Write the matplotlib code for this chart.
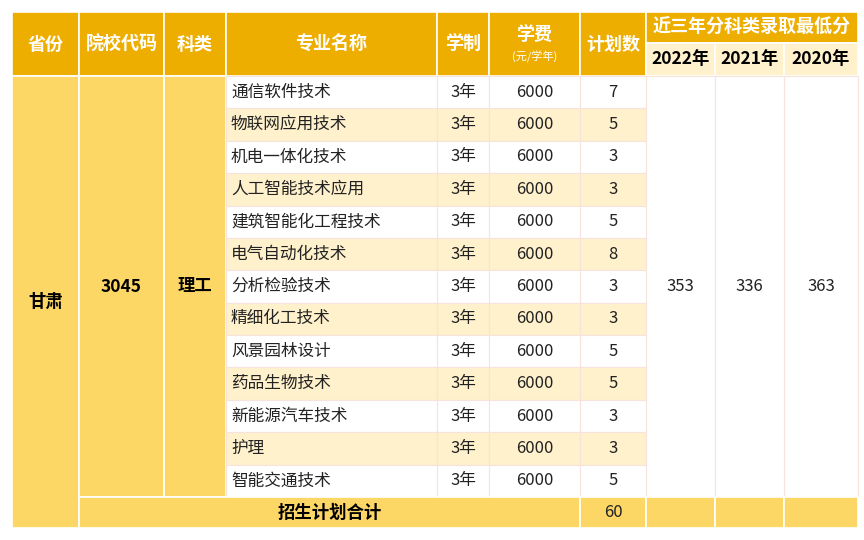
import matplotlib
matplotlib.use("Agg")
import matplotlib.pyplot as plt
from matplotlib.patches import Rectangle

plt.rcParams["font.family"] = "Noto Sans CJK SC"

# data
majors = ["通信软件技术", "物联网应用技术", "机电一体化技术", "人工智能技术应用", "建筑智能化工程技术",
          "电气自动化技术", "分析检验技术", "精细化工技术", "风景园林设计", "药品生物技术",
          "新能源汽车技术", "护理", "智能交通技术"]
plans = [7, 5, 3, 3, 5, 8, 3, 3, 5, 5, 3, 3, 5]
plan_total = 60  # as printed in the source table
years_len = "3年"
fee = 6000
province, code, subject = "甘肃", "3045", "理工"
score_years = ["2022年", "2021年", "2020年"]
scores = [353, 336, 363]
headers = ["省份", "院校代码", "科类", "专业名称", "学制", "学费", "计划数"]

# layout (pixels)
col_edges = [12, 79, 164, 226, 437, 489, 580, 646, 715, 784, 858]
top, head_bot, sub_split = 12, 76, 43
row_h = (497 - head_bot) / len(majors)
total_bot = 528

GOLD = "#EEAE00"
LIGHT = "#FDD766"
CREAM = "#FFF1CC"
LINE = "#F6E3DC"

fig = plt.figure(figsize=(8.64, 5.4), dpi=100)
ax = fig.add_axes([0, 0, 1, 1])
ax.set_xlim(0, 864)
ax.set_ylim(540, 0)
ax.axis("off")


def cell(x0, x1, y0, y1, color, edge="white", lw=1.2):
    ax.add_patch(Rectangle((x0, y0), x1 - x0, y1 - y0, facecolor=color, edgecolor=edge, lw=lw))


def text(x0, x1, y0, y1, s, ha="center", **kw):
    x = (x0 + x1) / 2 if ha == "center" else x0 + 5
    ax.text(x, (y0 + y1) / 2, s, ha=ha, va="center", **kw)


# header
for i, h in enumerate(headers):
    x0, x1 = col_edges[i], col_edges[i + 1]
    cell(x0, x1, top, head_bot, GOLD)
    if h == "学费":
        ax.text((x0 + x1) / 2, 34, h, ha="center", va="center", color="white", fontsize=13, fontweight="bold")
        ax.text((x0 + x1) / 2, 57, "(元/学年)", ha="center", va="center", color="white", fontsize=8)
    else:
        text(x0, x1, top, head_bot, h, color="white", fontsize=13, fontweight="bold")
cell(col_edges[7], col_edges[10], top, sub_split, GOLD)
text(col_edges[7], col_edges[10], top, sub_split, "近三年分科类录取最低分", color="white", fontsize=13, fontweight="bold")
for j, yr in enumerate(score_years):
    x0, x1 = col_edges[7 + j], col_edges[8 + j]
    cell(x0, x1, sub_split, head_bot, CREAM)
    text(x0, x1, sub_split, head_bot, yr, color="black", fontsize=12.5, fontweight="bold")

# merged left cells
for i, s in enumerate([province, code, subject]):
    x0, x1 = col_edges[i], col_edges[i + 1]
    bot = total_bot if i == 0 else 497
    cell(x0, x1, head_bot, bot, LIGHT)
    text(x0, x1, head_bot, 497 if i else total_bot, s, color="black", fontsize=12.5, fontweight="bold")

# rows
for r, (m, p) in enumerate(zip(majors, plans)):
    y0, y1 = head_bot + r * row_h, head_bot + (r + 1) * row_h
    bg = "white" if r % 2 == 0 else CREAM
    vals = [m, years_len, str(fee), str(p)]
    for k, v in enumerate(vals):
        x0, x1 = col_edges[3 + k], col_edges[4 + k]
        cell(x0, x1, y0, y1, bg, edge=LINE, lw=0.8)
        text(x0, x1, y0, y1, v, ha="left" if k == 0 else "center", color="#222222", fontsize=12)

# merged score cells
for j, sc in enumerate(scores):
    x0, x1 = col_edges[7 + j], col_edges[8 + j]
    cell(x0, x1, head_bot, 497, "white", edge=LINE, lw=0.8)
    text(x0, x1, head_bot, 497, str(sc), color="#222222", fontsize=12)

# total row
cell(col_edges[1], col_edges[6], 497, total_bot, LIGHT)
text(col_edges[1], col_edges[6], 497, total_bot, "招生计划合计", color="black", fontsize=12.5, fontweight="bold")
cell(col_edges[6], col_edges[7], 497, total_bot, LIGHT)
text(col_edges[6], col_edges[7], 497, total_bot, str(plan_total), color="#222222", fontsize=12)
for j in range(3):
    cell(col_edges[7 + j], col_edges[8 + j], 497, total_bot, LIGHT)

fig.savefig("out.png", dpi=100)
